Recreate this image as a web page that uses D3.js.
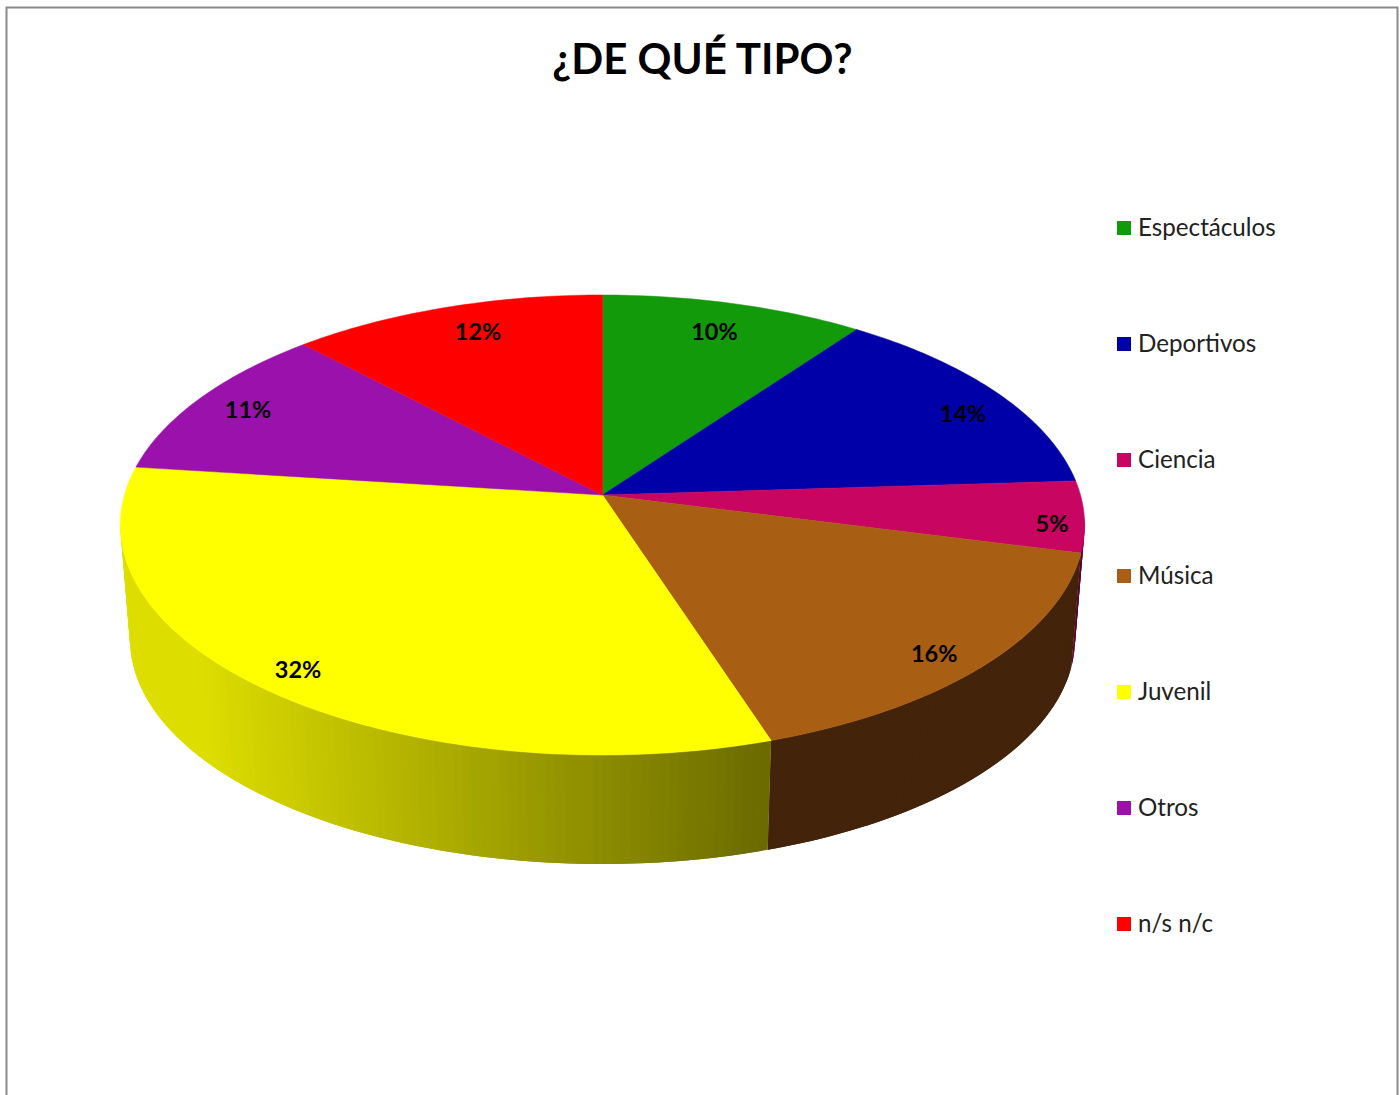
<!DOCTYPE html>
<html>
<head>
<meta charset="utf-8">
<script src="https://cdn.jsdelivr.net/npm/d3@7"></script>
<style>
  html, body { margin: 0; padding: 0; background: #fff; }
  svg { display: block; }
  text { font-family: Lato, "Open Sans", sans-serif; }
</style>
</head>
<body>
<svg id="chart" width="1400" height="1095"></svg>
<script>
const chartTitle = "¿DE QUÉ TIPO?";
const categories = ["Espectáculos", "Deportivos", "Ciencia", "Música", "Juvenil", "Otros", "n/s n/c"];
const shares = [10, 14, 5, 16, 32, 11, 12];
const faceColors = ["#129a0b", "#0000a8", "#c80560", "#a85e13", "#ffff00", "#9a11ac", "#ff0000"];

// Layout of the tilted disc
const W = 1400, H = 1095;
const apex = { x: 602.5, y: 495 };
const baseApex = { x: 602.5, y: 610 };
const radiusX = 478, radiusY = 226.1;
const tilt = 0.1304;        // perspective foreshortening of the far edge
const baseScaleX = 0.98, baseScaleY = 0.977;
const labelReach = 0.87;
const labelNudge = [[-4, 5], [15, 8], [31, 10], [3, 13], [-14, 8], [-2, -1], [14, 2]];

const svg = d3.select("#chart");

// Frame of the chart area, open at the bottom of the page
svg.append("rect")
  .attr("x", 6.5).attr("y", 7.5)
  .attr("width", 1391).attr("height", H + 20)
  .attr("fill", "#fff").attr("stroke", "#8a8a8a").attr("stroke-width", 2);

svg.append("text")
  .attr("x", 702.5).attr("y", 74)
  .attr("text-anchor", "middle")
  .attr("font-size", 42).attr("font-weight", 700)
  .attr("fill", "#000")
  .text(chartTitle);

// Project a point of the unit disc onto the page; a is clockwise from twelve o'clock
function project(a, r = 1, base = false) {
  const u = r * Math.sin(a), v = r * Math.cos(a);
  const w = 1 + tilt * v;
  const o = base ? baseApex : apex;
  const sx = base ? baseScaleX : 1, sy = base ? baseScaleY : 1;
  return [o.x + sx * radiusX * u / w, o.y - sy * radiusY * v / w];
}

const pie = d3.pie().sort(null).value(d => d);
const slices = pie(shares).map((s, i) => ({ ...s, i }));
const line = d3.line();
const STEP = Math.PI / 180;

function rimAngles(a0, a1) {
  const n = Math.max(2, Math.ceil((a1 - a0) / STEP));
  return d3.range(n + 1).map(k => a0 + (a1 - a0) * k / n);
}

// Side wall: narrow overlapping facets between the two rims, shaded across the page
const yellowShade = d3.scaleLinear()
  .domain([200, 770])
  .range(["#dddd00", "#6a6a00"])
  .interpolate(d3.interpolateRgb).clamp(true);
const wallFill = {
  2: () => "#5e0030",
  3: () => "#43230a",
  4: x => yellowShade(x)
};
const visibleFrom = Math.PI * 0.53, visibleTo = Math.PI * 1.46;

const wall = svg.append("g");
slices.filter(s => wallFill[s.i]).forEach(s => {
  const a0 = Math.max(s.startAngle, visibleFrom), a1 = Math.min(s.endAngle, visibleTo);
  if (a1 <= a0) return;
  const steps = rimAngles(a0, a1);
  d3.pairs(steps).forEach(([p, q]) => {
    const next = Math.min(q + STEP, a1);
    const c = wallFill[s.i](project((p + q) / 2)[0]);
    wall.append("path")
      .attr("d", line([project(p), project(next), project(next, 1, true), project(p, 1, true)]) + "Z")
      .attr("fill", c);
  });
});

// Top face of each slice
svg.append("g").selectAll("path").data(slices).join("path")
  .attr("d", s => line([[apex.x, apex.y], ...rimAngles(s.startAngle, s.endAngle).map(a => project(a))]) + "Z")
  .attr("fill", s => faceColors[s.i])
  .attr("stroke", s => faceColors[s.i]).attr("stroke-width", 0.5);

// Percent labels
svg.append("g").selectAll("text").data(slices).join("text")
  .attr("x", s => project((s.startAngle + s.endAngle) / 2, labelReach)[0] + labelNudge[s.i][0])
  .attr("y", s => project((s.startAngle + s.endAngle) / 2, labelReach)[1] + labelNudge[s.i][1])
  .attr("dy", "0.36em")
  .attr("text-anchor", "middle")
  .attr("font-size", 23.5).attr("font-weight", 700).attr("fill", "#000")
  .text(s => s.value + "%");

// Legend column
const legendY = d3.scalePoint().domain(categories).range([228, 924]);
const legend = svg.append("g").selectAll("g").data(categories).join("g")
  .attr("transform", d => `translate(0,${legendY(d)})`);
legend.append("rect")
  .attr("x", 1117).attr("y", -7).attr("width", 14).attr("height", 14)
  .attr("fill", (d, i) => faceColors[i]);
legend.append("text")
  .attr("x", 1138).attr("y", -1).attr("dy", "0.36em")
  .attr("font-size", 24.2).attr("fill", "#222")
  .text(d => d);
</script>
</body>
</html>
